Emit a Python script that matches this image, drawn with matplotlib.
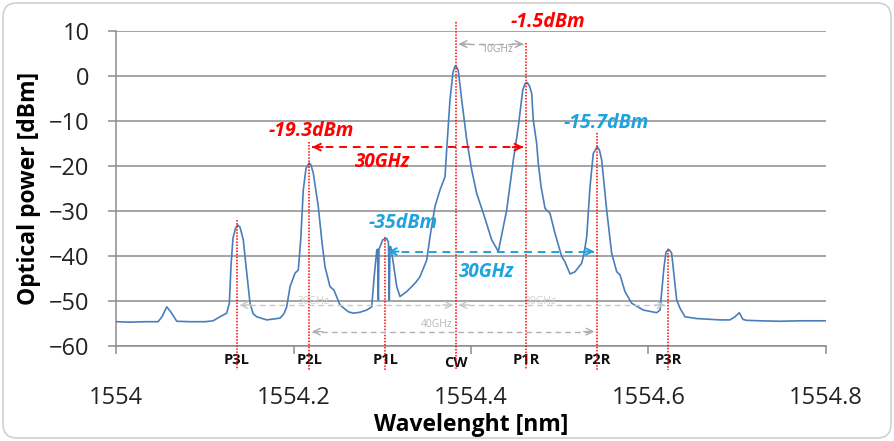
import numpy as np
import matplotlib
matplotlib.use("Agg")
import matplotlib.pyplot as plt
from matplotlib.patches import FancyBboxPatch
from matplotlib.transforms import IdentityTransform

plt.rcParams['font.family'] = ['Open Sans', 'DejaVu Sans']

# optical spectrum
wavelength = [
    1554.0000, 1554.0158, 1554.0327, 1554.0473, 1554.0518, 1554.0571, 1554.0620, 1554.0684,
    1554.0834, 1554.1003, 1554.1093, 1554.1172, 1554.1247, 1554.1277, 1554.1296, 1554.1318,
    1554.1347, 1554.1371, 1554.1397, 1554.1434, 1554.1473, 1554.1510, 1554.1544, 1554.1585,
    1554.1698, 1554.1848, 1554.1893, 1554.1923, 1554.1961, 1554.2017, 1554.2054, 1554.2081,
    1554.2110, 1554.2141, 1554.2178, 1554.2197, 1554.2223, 1554.2279, 1554.2321, 1554.2355,
    1554.2411, 1554.2456, 1554.2524, 1554.2618, 1554.2674, 1554.2749, 1554.2825, 1554.2881,
    1554.2907, 1554.2938, 1554.2947, 1554.2956, 1554.2963, 1554.2975, 1554.3005, 1554.3050,
    1554.3070, 1554.3079, 1554.3087, 1554.3095, 1554.3125, 1554.3163, 1554.3200, 1554.3234,
    1554.3276, 1554.3332, 1554.3380, 1554.3425, 1554.3501, 1554.3538, 1554.3594, 1554.3651,
    1554.3707, 1554.3726, 1554.3763, 1554.3797, 1554.3820, 1554.3837, 1554.3857, 1554.3895,
    1554.3952, 1554.4008, 1554.4064, 1554.4139, 1554.4233, 1554.4308, 1554.4349, 1554.4402,
    1554.4477, 1554.4533, 1554.4583, 1554.4609, 1554.4634, 1554.4659, 1554.4684, 1554.4702,
    1554.4740, 1554.4758, 1554.4789, 1554.4834, 1554.4890, 1554.4947, 1554.5022, 1554.5059,
    1554.5116, 1554.5172, 1554.5247, 1554.5273, 1554.5304, 1554.5341, 1554.5378, 1554.5423,
    1554.5448, 1554.5473, 1554.5529, 1554.5585, 1554.5642, 1554.5679, 1554.5735, 1554.5811,
    1554.5941, 1554.6092, 1554.6130, 1554.6175, 1554.6197, 1554.6223, 1554.6242, 1554.6261,
    1554.6318, 1554.6355, 1554.6411, 1554.6543, 1554.6806, 1554.6918, 1554.6975, 1554.7023,
    1554.7065, 1554.7107, 1554.7256, 1554.7482, 1554.7707, 1554.8000,
]
power = [
    -54.6, -54.7, -54.6, -54.6, -53.5, -51.3, -52.5, -54.5,
    -54.6, -54.6, -54.4, -53.5, -52.7, -50.5, -42.0, -36.0,
    -33.8, -33.1, -33.6, -36.4, -43.8, -50.5, -52.8, -53.5,
    -54.2, -53.8, -52.8, -51.3, -46.8, -43.8, -43.1, -36.4,
    -25.3, -20.5, -19.3, -19.8, -21.6, -29.0, -37.0, -42.4,
    -46.8, -47.6, -50.9, -52.4, -52.7, -52.5, -52.0, -51.3,
    -45.0, -38.7, -38.5, -49.8, -38.5, -37.9, -36.4, -36.1,
    -37.0, -49.8, -38.0, -37.9, -41.6, -46.8, -49.0, -48.5,
    -47.9, -46.8, -45.8, -44.6, -40.9, -35.7, -29.0, -25.3,
    -22.4, -16.4, -5.3, 0.8, 2.2, 2.0, 1.2, -5.3,
    -14.2, -20.9, -26.1, -30.5, -36.4, -39.0, -35.0, -29.8,
    -18.7, -11.3, -3.1, -1.7, -1.5, -2.2, -3.9, -9.8,
    -15.0, -19.4, -24.5, -29.4, -30.5, -35.0, -40.1, -41.3,
    -44.0, -43.5, -41.6, -39.5, -35.7, -24.6, -17.2, -15.7,
    -16.5, -18.7, -29.8, -39.4, -43.5, -44.2, -47.9, -50.5,
    -52.0, -52.6, -52.0, -42.4, -39.2, -38.5, -38.8, -39.4,
    -49.8, -51.6, -53.5, -53.9, -54.2, -54.2, -53.5, -52.6,
    -54.1, -54.3, -54.4, -54.5, -54.4, -54.4,
]

# comb lines
peak_names = ['P3L', 'P2L', 'P1L', 'CW', 'P1R', 'P2R', 'P3R']
peak_wl = [1554.1363, 1554.2178, 1554.3034, 1554.3831, 1554.4620, 1554.5420, 1554.6220]
marker_top = [-32.0, -14.6, -35.7, 11.9, 7.3, -12.7, -38.7]

# spacing arrows: (from peak, to peak, level dBm, label)
arrow_from = [3, 0, 3, 1, 1, 2]
arrow_to = [4, 3, 6, 5, 4, 5]
arrow_level = [7.1, -50.9, -50.9, -56.8, -15.8, -39.0]
arrow_label = ['10GHz', '30GHz', '30GHz', '40GHz', '30GHz', '30GHz']

RED = '#ff0000'
CYAN = '#1ea3e0'
BLUE = '#4a7ebb'

fig = plt.figure(figsize=(8.94, 4.41), dpi=100)
ax = fig.add_axes([0.1298, 0.2154, 0.7941, 0.7143])

ax.plot(wavelength, power, color=BLUE, lw=1.2, zorder=3)

ax.set_xlim(1554, 1554.8)
ax.set_ylim(-60, 10)
ax.set_xticks([1554, 1554.2, 1554.4, 1554.6, 1554.8])
ax.set_xticklabels(['1554', '1554.2', '1554.4', '1554.6', '1554.8'])
ax.set_yticks(np.arange(-60, 11, 10))
ax.grid(axis='y', color='#8c8c8c', lw=1.1)
ax.set_axisbelow(True)
for s in ['top', 'right']:
    ax.spines[s].set_visible(False)
for s in ['left', 'bottom']:
    ax.spines[s].set_color('#8c8c8c')
    ax.spines[s].set_linewidth(1.1)
ax.tick_params(axis='both', colors='#8c8c8c', labelcolor='#222222', labelsize=17, length=6, width=1.1)
ax.tick_params(axis='y', pad=13)
ax.tick_params(axis='x', pad=23)
ax.set_xlabel('Wavelenght [nm]', fontsize=16.5, fontweight='bold', labelpad=2)
ax.set_ylabel('Optical power [dBm]', fontsize=16.5, fontweight='bold', labelpad=6)

# dotted red markers, running below the axis through the labels
for name, x, top in zip(peak_names, peak_wl, marker_top):
    ax.plot([x, x], [top, -65.3], color=RED, lw=1.1, ls=(0, (1, 1)), clip_on=False, zorder=4)
    ax.text(x, -63.8 if name == 'CW' else -63.1, name, ha='center', va='center',
            fontsize=10.5, fontweight='bold', color='#111111', clip_on=False)

# spacing arrows
styles = {0: ('#a6a6a6', 1.0), 1: ('#c8c8c8', 1.0), 2: ('#c8c8c8', 1.0), 3: ('#b0b0b0', 1.0),
          4: (RED, 1.4), 5: (CYAN, 1.4)}
for i, (a, b, lev) in enumerate(zip(arrow_from, arrow_to, arrow_level)):
    col, lw = styles[i]
    x0, x1 = peak_wl[a] + 0.003, peak_wl[b] - 0.003
    ax.plot([x0, x1], [lev, lev], color=col, lw=lw, ls=(0, (4, 3)), zorder=5, clip_on=False)
    for xs, xe in [(x0 + 0.012, x0), (x1 - 0.012, x1)]:
        ax.annotate('', xy=(xe, lev), xytext=(xs, lev),
                    arrowprops=dict(arrowstyle='->', color=col, lw=lw, shrinkA=0, shrinkB=0,
                                    mutation_scale=12),
                    annotation_clip=False, zorder=5)

# spacing labels
ax.text(1554.4293, 5.8, arrow_label[0], color='#a0a0a0', fontsize=7.5, ha='center', va='center')
ax.text(1554.2220, -50.2, arrow_label[1], color='#d0d0d0', fontsize=7.5, ha='center', va='center')
ax.text(1554.4777, -50.2, arrow_label[2], color='#d0d0d0', fontsize=7.5, ha='center', va='center')
ax.text(1554.3617, -55.3, arrow_label[3], color='#b8b8b8', fontsize=7.5, ha='center', va='center')
ax.text(1554.3008, -19.1, arrow_label[4], color=RED, fontsize=13.5, fontweight='bold',
        style='italic', ha='center', va='center')
ax.text(1554.4169, -43.5, arrow_label[5], color=CYAN, fontsize=13.5, fontweight='bold',
        style='italic', ha='center', va='center')

# power labels
ax.text(1554.4868, 11.9, '-1.5dBm', color=RED, fontsize=14, fontweight='bold', style='italic',
        ha='center', va='center', clip_on=False)
ax.text(1554.2197, -12.2, '-19.3dBm', color=RED, fontsize=14, fontweight='bold', style='italic',
        ha='center', va='center')
ax.text(1554.5521, -10.4, '-15.7dBm', color=CYAN, fontsize=14, fontweight='bold', style='italic',
        ha='center', va='center')
ax.text(1554.3240, -32.7, '-35dBm', color=CYAN, fontsize=14, fontweight='bold', style='italic',
        ha='center', va='center')

# rounded chart border
fig.add_artist(FancyBboxPatch((3, 3), 888, 435, boxstyle='round,pad=0,rounding_size=14',
                              transform=IdentityTransform(), facecolor='none',
                              edgecolor='#d0d0d0', lw=1.2))

fig.savefig('out.png', dpi=100)
